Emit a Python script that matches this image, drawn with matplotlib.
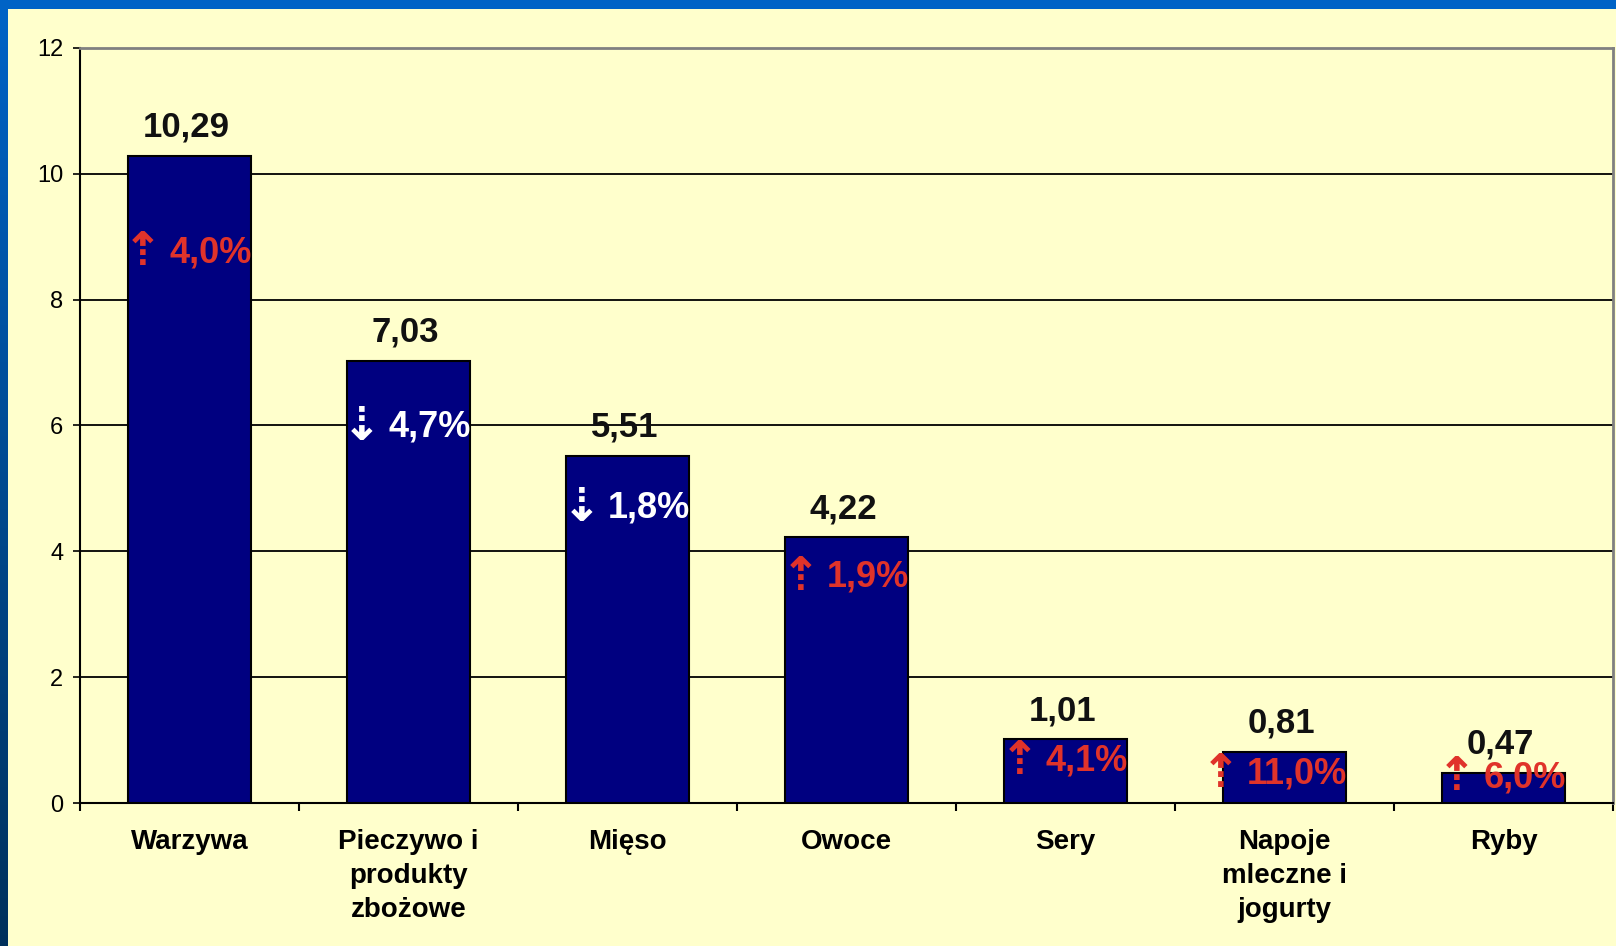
import matplotlib.pyplot as plt
import numpy as np
from matplotlib.patches import Rectangle

# Dane
kategorie = ['Warzywa', 'Pieczywo i\nprodukty\nzbożowe', 'Mięso', 'Owoce',
             'Sery', 'Napoje\nmleczne i\njogurty', 'Ryby']
wartosci = [10.29, 7.03, 5.51, 4.22, 1.01, 0.81, 0.47]
zmiany = ['4,0%', '4,7%', '1,8%', '1,9%', '4,1%', '11,0%', '6,0%']
wzrost = [True, False, False, True, True, True, True]

plt.rcParams['font.family'] = ['Liberation Sans', 'DejaVu Sans']

W, H = 1616, 946
fig = plt.figure(figsize=(W / 100, H / 100), dpi=100)

# Tło: niebieska ramka z gradientem po lewej, żółty panel
bg = fig.add_axes([0, 0, 1, 1])
grad = np.linspace(0, 1, 256)[:, None]
top = np.array([0.0, 0.39, 0.78])
bottom = np.array([0.0, 0.19, 0.36])
img = top[None, None, :] * (1 - grad[:, :, None]) + bottom[None, None, :] * grad[:, :, None]
bg.imshow(img, aspect='auto', extent=[0, 1, 0, 1], origin='upper')
bg.add_patch(Rectangle((8 / W, 0), 1, (H - 9) / H, facecolor='#FFFFCC', edgecolor='none'))
bg.set_xlim(0, 1)
bg.set_ylim(0, 1)
bg.axis('off')

ax = fig.add_axes([80 / W, 143 / H, (1613 - 80) / W, (898 - 143) / H])
ax.set_facecolor('#FFFFCC')

x = np.arange(len(kategorie))
szer = 0.56
bars = ax.bar(x, wartosci, width=szer, color='#000080', edgecolor='black', linewidth=1.5, zorder=3)

ax.set_xlim(-0.5, len(kategorie) - 0.5)
ax.set_ylim(0, 12)
ax.set_yticks(range(0, 13, 2))
ax.tick_params(axis='y', length=5, width=1.2, pad=7, labelsize=17, direction='out')
ax.yaxis.grid(True, color='black', linewidth=1.3, zorder=1)

# podziałki między kategoriami, etykiety na środku
ax.set_xticks(np.arange(-0.5, len(kategorie)), labels=[''] * (len(kategorie) + 1))
ax.tick_params(axis='x', which='major', length=6, width=1.5, direction='out')
ax.set_xticks(x, labels=kategorie, minor=True)
ax.tick_params(axis='x', which='minor', length=0, pad=19)
for lab in ax.get_xticklabels(minor=True):
    lab.set_fontsize(20)
    lab.set_fontweight('bold')
    lab.set_linespacing(1.4)

for s in ['left', 'bottom']:
    ax.spines[s].set_color('black')
    ax.spines[s].set_linewidth(1.5)
for s in ['top', 'right']:
    ax.spines[s].set_color('#808080')
    ax.spines[s].set_linewidth(2)

# wartości nad słupkami
for xi, v in zip(x, wartosci):
    ax.annotate(f'{v:.2f}'.replace('.', ','), (xi, v), xytext=(-2, 14),
                textcoords='offset points', ha='center', va='baseline',
                fontsize=25, fontweight='bold', color='#111111', zorder=5)

# zmiany procentowe wewnątrz słupków
for xi, v, z, up in zip(x, wartosci, zmiany, wzrost):
    kolor = '#E0332A' if up else 'white'
    y = max(min(0.85 * v, v - 0.35), 0.4)
    t = ax.annotate(z, (xi + szer / 2, y), xytext=(1, 0), textcoords='offset points',
                    ha='right', va='center', fontsize=26, fontweight='bold',
                    color=kolor, zorder=6)
    ax.annotate('⇡' if up else '⇣', xy=(0, 0.5), xycoords=t, xytext=(-5, 0),
                textcoords='offset points', ha='right', va='center',
                fontsize=34, fontweight='bold', color=kolor,
                family='DejaVu Sans', zorder=6)

fig.savefig('out.png', dpi=100, facecolor='#0062C4')
